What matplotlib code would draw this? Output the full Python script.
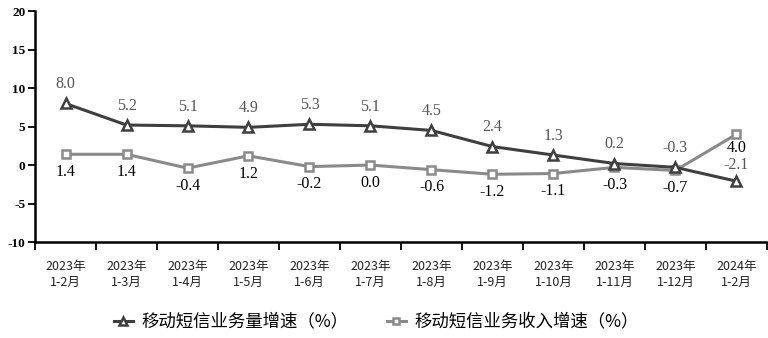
import matplotlib.pyplot as plt
import numpy as np

plt.rcParams['font.family'] = ['Noto Sans CJK SC', 'DejaVu Sans']

# data
months = ["2023年\n1-2月", "2023年\n1-3月", "2023年\n1-4月", "2023年\n1-5月",
          "2023年\n1-6月", "2023年\n1-7月", "2023年\n1-8月", "2023年\n1-9月",
          "2023年\n1-10月", "2023年\n1-11月", "2023年\n1-12月", "2024年\n1-2月"]
volume_growth = [8.0, 5.2, 5.1, 4.9, 5.3, 5.1, 4.5, 2.4, 1.3, 0.2, -0.3, -2.1]
revenue_growth = [1.4, 1.4, -0.4, 1.2, -0.2, 0.0, -0.6, -1.2, -1.1, -0.3, -0.7, 4.0]

fig = plt.figure(figsize=(7.68, 3.38), dpi=100)
ax = fig.add_axes([0.0456, 0.284, 0.953, 0.683])

x = np.arange(len(months))

ax.plot(x, volume_growth, color='#3f3f3f', lw=2.2, marker='^', ms=7,
        mfc='white', mec='#3f3f3f', mew=1.8, zorder=3,
        label='移动短信业务量增速（%）')
ax.plot(x, revenue_growth, color='#8a8a8a', lw=2.2, marker='s', ms=6,
        mfc='white', mec='#8a8a8a', mew=1.8, zorder=2,
        label='移动短信业务收入增速（%）')

n = len(months)
for i, v in enumerate(volume_growth):
    dy = 6 if i == n - 1 else 8
    ax.annotate(f"{v:.1f}", (i, v), xytext=(0, dy), textcoords='offset points',
                ha='center', va='bottom', fontsize=11.5, color='#555555',
                family='Liberation Serif')
for i, v in enumerate(revenue_growth):
    dy = -4 if i == n - 1 else -7
    ax.annotate(f"{v:.1f}", (i, v), xytext=(0, dy), textcoords='offset points',
                ha='center', va='top', fontsize=11.5, color='black',
                family='Liberation Serif')

ax.set_xlim(-0.5, n - 0.5)
ax.set_ylim(-10, 20)
ax.set_yticks([-10, -5, 0, 5, 10, 15, 20])
ax.set_yticklabels([str(t) for t in [-10, -5, 0, 5, 10, 15, 20]],
                   fontweight='bold', fontsize=9.5, family='Liberation Serif')

ax.set_xticks(np.arange(-0.5, n, 1.0))
ax.set_xticklabels([])
ax.set_xticks(x, minor=True)
ax.set_xticklabels(months, minor=True, fontsize=9, color='#222222',
                   linespacing=1.3)
ax.tick_params(axis='x', which='minor', length=0, pad=13)
ax.tick_params(axis='x', which='major', length=6, width=1.3, direction='out')
ax.tick_params(axis='y', length=5, width=1.3, direction='out', pad=2)

for side in ['top', 'right']:
    ax.spines[side].set_visible(False)
for side in ['left', 'bottom']:
    ax.spines[side].set_linewidth(1.8)
    ax.spines[side].set_color('black')

fig.legend(loc='lower center', bbox_to_anchor=(0.49, -0.025), ncol=2, frameon=False,
           fontsize=12.5, handlelength=1.1, markerscale=0.75, columnspacing=2.2,
           handletextpad=0.5)

fig.savefig('out.png', dpi=100)
